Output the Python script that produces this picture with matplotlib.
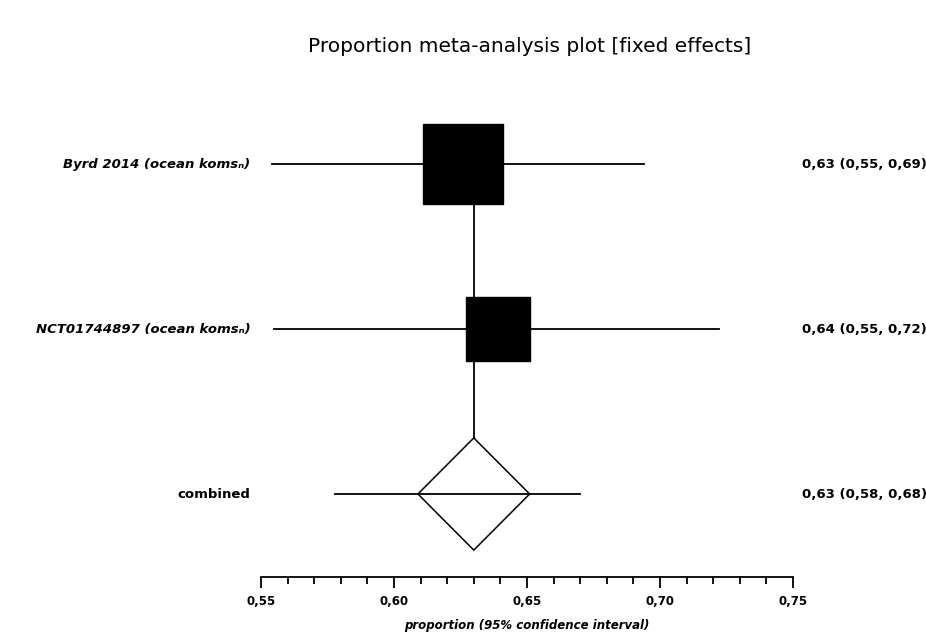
import numpy as np
import matplotlib
matplotlib.use("Agg")
import matplotlib.pyplot as plt
from matplotlib.ticker import MultipleLocator, FuncFormatter
from matplotlib.patches import Polygon

# ---- 数据 ----
studies = ["Byrd 2014 (ocean komsₙ)", "NCT01744897 (ocean komsₙ)"]
prop = [0.626, 0.639]
ci_low = [0.554, 0.555]
ci_high = [0.694, 0.722]
weights = [0.61, 0.39]
study_text = ["0,63 (0,55, 0,69)", "0,64 (0,55, 0,72)"]

pooled_label = "combined"
pooled = 0.630
pooled_lo, pooled_hi = 0.609, 0.651      # diamond
pooled_line_lo, pooled_line_hi = 0.578, 0.670
pooled_text = "0,63 (0,58, 0,68)"

W, H = 926, 635
fig = plt.figure(figsize=(W / 100, H / 100), dpi=100)
ax = fig.add_axes([261 / W, 1 - 577 / H, 532 / W, 477 / H])

rows = [2, 1]          # Byrd oben, NCT in der Mitte
pooled_row = 0
ax.set_xlim(0.55, 0.75)
ax.set_ylim(-0.503, 2.388)

# verbindungslinie
ax.plot([pooled, pooled], [rows[0], pooled_row + 0.34], color="black", lw=1.3, zorder=1)

box_max = 57.6
for r, p, lo, hi, w in zip(rows, prop, ci_low, ci_high, weights):
    ax.plot([lo, hi], [r, r], color="black", lw=1.3, zorder=2)
    ax.plot(p, r, marker="s", color="black", markersize=box_max * np.sqrt(w / max(weights)), zorder=3)

ax.plot([pooled_line_lo, pooled_line_hi], [pooled_row, pooled_row], color="black", lw=1.3, zorder=2)
dia = Polygon([[pooled_lo, pooled_row], [pooled, pooled_row + 0.34],
               [pooled_hi, pooled_row], [pooled, pooled_row - 0.34]],
              closed=True, edgecolor="black", lw=1.1, zorder=3, fill=False)
ax.add_patch(dia)

lab_kw = dict(fontsize=9.5, fontweight="bold", va="center", transform=ax.get_yaxis_transform())
for r, s, t in zip(rows, studies, study_text):
    ax.text(-0.02, r, s, ha="right", style="italic", **lab_kw)
    ax.text(1.017, r, t, ha="left", clip_on=False, **lab_kw)
ax.text(-0.02, pooled_row, pooled_label, ha="right", **lab_kw)
ax.text(1.017, pooled_row, pooled_text, ha="left", **lab_kw)

for s in ["top", "right", "left"]:
    ax.spines[s].set_visible(False)
ax.spines["bottom"].set_linewidth(1.3)
ax.set_yticks([])
ax.xaxis.set_major_locator(MultipleLocator(0.05))
ax.xaxis.set_minor_locator(MultipleLocator(0.01))
ax.xaxis.set_major_formatter(FuncFormatter(lambda v, _: f"{v:.2f}".replace(".", ",")))
ax.tick_params(axis="x", which="major", length=8, width=1.3, labelsize=8.5, pad=5)
ax.tick_params(axis="x", which="minor", length=5, width=1.3)
for lbl in ax.get_xticklabels():
    lbl.set_fontweight("bold")
ax.set_xlabel("proportion (95% confidence interval)", fontsize=8.5, fontweight="bold",
              style="italic", labelpad=8)

fig.text(530 / W, 1 - 47 / H, "Proportion meta-analysis plot [fixed effects]",
         ha="center", va="center", fontsize=14.5)

fig.savefig("out.png", dpi=100)
